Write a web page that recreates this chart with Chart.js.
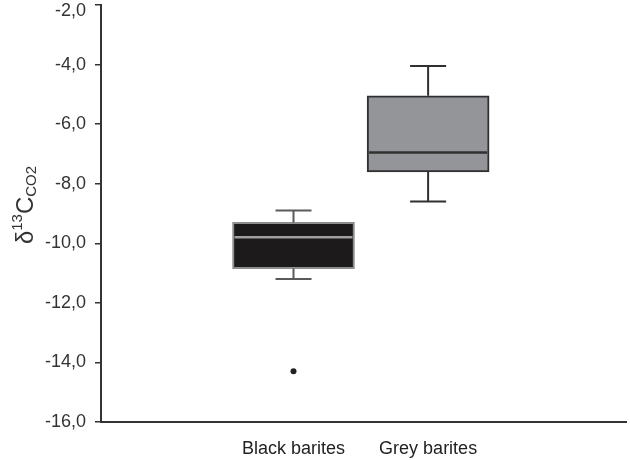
<!DOCTYPE html>
<html>
<head>
<meta charset="utf-8">
<title>Barites box plot</title>
<script src="https://cdn.jsdelivr.net/npm/chart.js@4.4.1/dist/chart.umd.min.js"></script>
<style>
  body { margin: 0; background: #fff; }
  canvas { display: block; }
</style>
</head>
<body>
<canvas id="boxChart" width="630" height="460"></canvas>
<script>
let categories = ['Black barites', 'Grey barites'];
let whiskerLow = [-11.2, -8.6];
let q1 = [-10.85, -7.6];
let median = [-9.8, -6.95];
let q3 = [-9.3, -5.05];
let whiskerHigh = [-8.9, -4.05];
let outliers = [[-14.3], []];
let yTicks = [-16, -14, -12, -10, -8, -6, -4, -2];

let fillColors = ['#1c1a1b', '#939598'];
let edgeColors = ['#8e8e8e', '#303030'];
let medianColors = ['#a0a0a0', '#303030'];
let whiskerColors = ['#5a5a5a', '#303030'];
let fontName = '"Liberation Sans", Arial, sans-serif';

function fmt(v){
  return v.toFixed(1).replace('.', ',');
}

// whiskers, caps and medians drawn from the bar scale positions
let boxPlugin = {
  id: 'boxParts',
  beforeDraw(chart){
    // the top tick label sits just under its tick, as in the original
    let items = chart.scales.y.getLabelItems();
    let top = items[items.length - 1];
    if (top && !top.moved){
      top.options.translation[1] += 6;
      top.moved = true;
    }
  },
  afterDatasetsDraw(chart){
    let ctx = chart.ctx;
    let x = chart.scales.x;
    let y = chart.scales.y;
    let bars = chart.getDatasetMeta(0).data;
    let capHalf = 18;
    ctx.save();
    for (let i = 0; i < categories.length; i++){
      let cx = x.getPixelForValue(i);
      let half = bars[i].width / 2;
      ctx.strokeStyle = whiskerColors[i];
      ctx.lineWidth = 2;
      ctx.beginPath();
      ctx.moveTo(cx, y.getPixelForValue(q3[i]));
      ctx.lineTo(cx, y.getPixelForValue(whiskerHigh[i]));
      ctx.moveTo(cx - capHalf, y.getPixelForValue(whiskerHigh[i]));
      ctx.lineTo(cx + capHalf, y.getPixelForValue(whiskerHigh[i]));
      ctx.moveTo(cx, y.getPixelForValue(q1[i]));
      ctx.lineTo(cx, y.getPixelForValue(whiskerLow[i]));
      ctx.moveTo(cx - capHalf, y.getPixelForValue(whiskerLow[i]));
      ctx.lineTo(cx + capHalf, y.getPixelForValue(whiskerLow[i]));
      ctx.stroke();

      ctx.strokeStyle = medianColors[i];
      ctx.lineWidth = 2.5;
      ctx.beginPath();
      ctx.moveTo(cx - half + 2, y.getPixelForValue(median[i]));
      ctx.lineTo(cx + half - 2, y.getPixelForValue(median[i]));
      ctx.stroke();
    }
    ctx.restore();
  }
};

// y title with superscript and subscript
let titlePlugin = {
  id: 'yTitle',
  afterDraw(chart){
    let ctx = chart.ctx;
    let parts = [
      {t: '\u03b4', size: 24, shift: 0},
      {t: '13', size: 15, shift: -11},
      {t: 'C', size: 24, shift: 0},
      {t: 'CO2', size: 15, shift: 3}
    ];
    ctx.save();
    let total = 0;
    parts.forEach(p => {
      ctx.font = p.size + 'px ' + fontName;
      p.w = ctx.measureText(p.t).width;
      total += p.w;
    });
    ctx.translate(33, 205);
    ctx.rotate(-Math.PI / 2);
    ctx.fillStyle = '#333';
    ctx.textBaseline = 'alphabetic';
    let pos = -total / 2;
    parts.forEach(p => {
      ctx.font = p.size + 'px ' + fontName;
      ctx.fillText(p.t, pos, p.shift);
      pos += p.w;
    });
    ctx.restore();
  }
};

let outlierPoints = [];
outliers.forEach((list, i) => {
  list.forEach(v => outlierPoints.push({x: i, y: v}));
});

let ctx = document.getElementById('boxChart').getContext('2d');
let myChart = new Chart(ctx, {
  type: 'bar',
  data: {
    datasets: [
      {
        label: 'box',
        data: categories.map((c, i) => ({x: i, y: [q1[i], q3[i]]})),
        backgroundColor: fillColors,
        borderColor: edgeColors,
        borderWidth: 2,
        borderSkipped: false,
        barThickness: 122
      },
      {
        type: 'scatter',
        label: 'outliers',
        data: outlierPoints,
        pointRadius: 3,
        pointBackgroundColor: '#222',
        pointBorderWidth: 0
      }
    ]
  },
  options: {
    responsive: false,
    animation: false,
    layout: {
      padding: {left: 45, right: 2, top: 0, bottom: 0}
    },
    plugins: {
      legend: {display: false},
      tooltip: {enabled: false}
    },
    scales: {
      x: {
        type: 'linear',
        min: -1.43,
        max: 2.47,
        offset: false,
        bounds: 'data',
        grace: 0,
        grid: {display: false, drawTicks: false, offset: false},
        border: {display: true, color: '#333', width: 2},
        afterBuildTicks: function(scale){
          scale.ticks = categories.map((c, i) => ({value: i}));
        },
        afterFit: function(scale){
          scale.height = 38;
        },
        ticks: {
          autoSkip: false,
          maxRotation: 0,
          padding: 16,
          color: '#222',
          font: {family: fontName, size: 18},
          callback: function(v){
            return categories[v] !== undefined ? categories[v] : '';
          }
        }
      },
      y: {
        min: -16,
        max: -2,
        grid: {
          display: true,
          drawOnChartArea: false,
          drawTicks: true,
          tickLength: 6,
          color: '#333',
          lineWidth: 1.5
        },
        border: {display: true, color: '#333', width: 2},
        afterBuildTicks: function(scale){
          scale.ticks = yTicks.map(v => ({value: v}));
        },
        afterFit: function(scale){
          scale.width = 56;
          scale.paddingTop = 5;
          scale.paddingBottom = 0;
        },
        ticks: {
          padding: 9,
          color: '#333',
          font: {family: fontName, size: 18},
          callback: function(v){
            return fmt(v);
          }
        }
      }
    }
  },
  plugins: [boxPlugin, titlePlugin]
});
</script>
</body>
</html>
